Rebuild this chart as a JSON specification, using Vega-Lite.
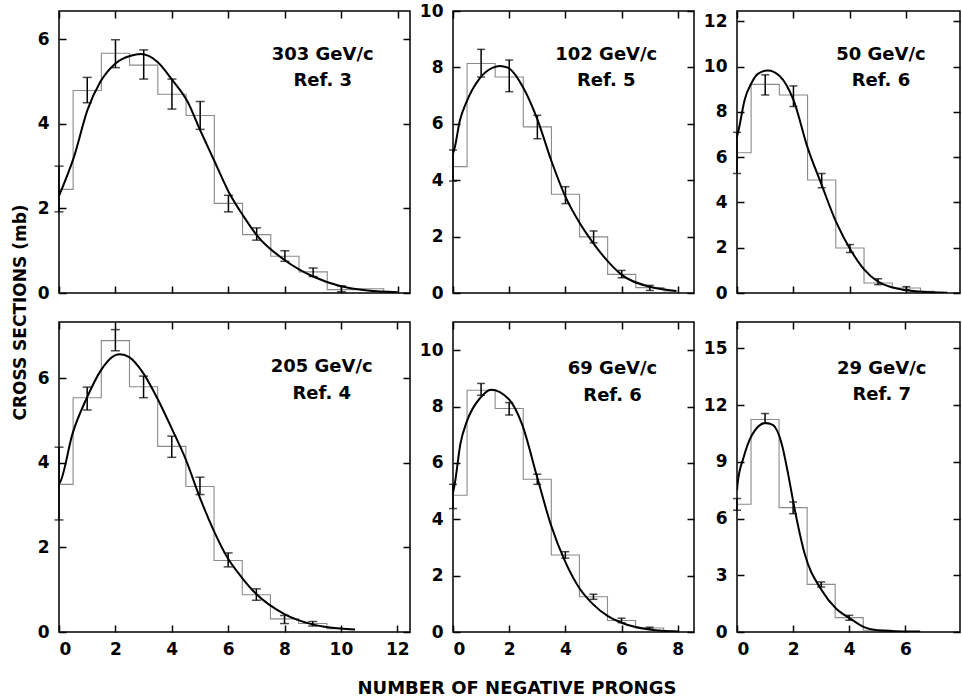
{
  "$schema": "https://vega.github.io/schema/vega-lite/v6.json",
  "background": "white",
  "padding": {"left": 12, "top": 1, "right": 1, "bottom": 1},
  "config": {
    "font": "DejaVu Sans",
    "view": {"stroke": "black", "strokeWidth": 1.5},
    "axis": {"domain": false, "grid": false, "tickColor": "black", "tickWidth": 1.5, "tickSize": -7, "labelFont": "DejaVu Sans", "labelFontWeight": "bold", "labelFontSize": 17, "labelColor": "black", "labelPadding": 17, "title": null},
    "title": {"font": "DejaVu Sans", "fontWeight": "bold", "fontSize": 17, "color": "black"}
  },
  "title": {"text": "CROSS SECTIONS (mb)", "orient": "left", "offset": 6, "anchor": "middle", "dx": 37},
  "vconcat": [
    {
      "title": {"text": "NUMBER OF NEGATIVE PRONGS", "orient": "bottom", "offset": 22, "anchor": "middle", "fontSize": 18, "dx": 18},
      "columns": 3,
      "align": "each",
      "spacing": {"row": 18, "column": 6},
      "concat": [
        {
          "width": 351, "height": 282,
          "data": {"values": [
            {"n": 0, "h": 2.45, "lo": 1.92, "hi": 3.0},
            {"n": 1, "h": 4.79, "lo": 4.5, "hi": 5.1},
            {"n": 2, "h": 5.67, "lo": 5.33, "hi": 5.99},
            {"n": 3, "h": 5.39, "lo": 5.06, "hi": 5.75},
            {"n": 4, "h": 4.7, "lo": 4.35, "hi": 5.06},
            {"n": 5, "h": 4.2, "lo": 3.87, "hi": 4.53},
            {"n": 6, "h": 2.12, "lo": 1.92, "hi": 2.31},
            {"n": 7, "h": 1.38, "lo": 1.25, "hi": 1.54},
            {"n": 8, "h": 0.87, "lo": 0.75, "hi": 1.0},
            {"n": 9, "h": 0.5, "lo": 0.39, "hi": 0.59},
            {"n": 10, "h": 0.08, "lo": 0.03, "hi": 0.17},
            {"n": 11, "h": 0.1, "lo": null, "hi": null},
            {"n": 12, "h": 0.03, "lo": null, "hi": null}
          ]},
          "layer": [
            {
              "mark": {"type": "line", "interpolate": "step", "color": "#8a8a8a", "strokeWidth": 1.1, "clip": true},
              "encoding": {
                "x": {"field": "n", "type": "quantitative", "scale": {"domain": [0, 12.43], "nice": false}, "axis": {"orient": "bottom", "labels": false, "minExtent": 0, "maxExtent": 0, "values": [0, 2, 4, 6, 8, 10, 12]}},
                "y": {"field": "h", "type": "quantitative", "scale": {"domain": [0, 6.67], "nice": false}, "axis": {"orient": "left", "values": [0, 2, 4, 6]}}
              }
            },
            {
              "transform": [{"filter": "datum.lo != null"}],
              "mark": {"type": "errorbar", "ticks": true, "size": 9, "thickness": 1.5, "color": "black"},
              "encoding": {
                "x": {"field": "n", "type": "quantitative", "axis": null},
                "y": {"field": "lo", "type": "quantitative", "axis": null},
                "y2": {"field": "hi"}
              }
            },
            {
              "data": {"values": [
                {"cx": 0.0, "cy": 2.3}, {"cx": 0.53, "cy": 3.22}, {"cx": 1.01, "cy": 4.33}, {"cx": 1.47, "cy": 5.0},
                {"cx": 2.0, "cy": 5.43}, {"cx": 2.54, "cy": 5.61}, {"cx": 2.89, "cy": 5.65}, {"cx": 3.48, "cy": 5.47},
                {"cx": 4.01, "cy": 5.04}, {"cx": 4.55, "cy": 4.53}, {"cx": 5.02, "cy": 3.82}, {"cx": 5.49, "cy": 3.14},
                {"cx": 6.01, "cy": 2.39}, {"cx": 6.55, "cy": 1.8}, {"cx": 7.0, "cy": 1.37}, {"cx": 8.01, "cy": 0.77},
                {"cx": 9.0, "cy": 0.39}, {"cx": 9.98, "cy": 0.16}, {"cx": 10.93, "cy": 0.06}, {"cx": 11.99, "cy": 0.02}
              ]},
              "mark": {"type": "line", "interpolate": "monotone", "color": "black", "strokeWidth": 2, "clip": true},
              "encoding": {
                "x": {"field": "cx", "type": "quantitative", "axis": {"orient": "top", "labels": false, "minExtent": 0, "maxExtent": 0, "values": [0, 2, 4, 6, 8, 10, 12]}},
                "y": {"field": "cy", "type": "quantitative", "axis": {"orient": "right", "labels": false, "minExtent": 0, "maxExtent": 0, "values": [0, 2, 4, 6]}}
              }
            },
            {
              "data": {"values": [{"t": ["303 GeV/c", "Ref. 3"]}]},
              "mark": {"type": "text", "font": "DejaVu Sans", "fontWeight": "bold", "fontSize": 18, "lineHeight": 26, "align": "center", "baseline": "middle", "color": "black"},
              "encoding": {"text": {"field": "t"}, "x": {"datum": 9.34, "type": "quantitative", "axis": null}, "y": {"datum": 5.63, "type": "quantitative", "axis": null}}
            }
          ],
          "resolve": {"axis": {"x": "independent", "y": "independent"}}
        },
        {
          "width": 241, "height": 282,
          "data": {"values": [
            {"n": 0, "h": 4.48, "lo": 3.97, "hi": 5.07},
            {"n": 1, "h": 8.14, "lo": 7.66, "hi": 8.64},
            {"n": 2, "h": 7.66, "lo": 7.14, "hi": 8.26},
            {"n": 3, "h": 5.89, "lo": 5.47, "hi": 6.3},
            {"n": 4, "h": 3.5, "lo": 3.17, "hi": 3.77},
            {"n": 5, "h": 1.99, "lo": 1.78, "hi": 2.2},
            {"n": 6, "h": 0.66, "lo": 0.54, "hi": 0.8},
            {"n": 7, "h": 0.19, "lo": 0.09, "hi": 0.27},
            {"n": 8, "h": 0.07, "lo": null, "hi": null}
          ]},
          "layer": [
            {
              "mark": {"type": "line", "interpolate": "step", "color": "#8a8a8a", "strokeWidth": 1.1, "clip": true},
              "encoding": {
                "x": {"field": "n", "type": "quantitative", "scale": {"domain": [0, 8.57], "nice": false}, "axis": {"orient": "bottom", "labels": false, "minExtent": 0, "maxExtent": 0, "values": [0, 2, 4, 6, 8]}},
                "y": {"field": "h", "type": "quantitative", "scale": {"domain": [0, 10], "nice": false}, "axis": {"orient": "left", "values": [0, 2, 4, 6, 8, 10]}}
              }
            },
            {
              "transform": [{"filter": "datum.lo != null"}],
              "mark": {"type": "errorbar", "ticks": true, "size": 8, "thickness": 1.5, "color": "black"},
              "encoding": {
                "x": {"field": "n", "type": "quantitative", "axis": null},
                "y": {"field": "lo", "type": "quantitative", "axis": null},
                "y2": {"field": "hi"}
              }
            },
            {
              "data": {"values": [
                {"cx": 0.0, "cy": 4.95}, {"cx": 0.06, "cy": 5.15}, {"cx": 0.24, "cy": 6.1}, {"cx": 0.47, "cy": 6.75},
                {"cx": 0.95, "cy": 7.61}, {"cx": 1.42, "cy": 7.99}, {"cx": 1.66, "cy": 8.05}, {"cx": 1.95, "cy": 7.99},
                {"cx": 2.49, "cy": 7.3}, {"cx": 3.0, "cy": 6.16}, {"cx": 3.5, "cy": 4.68}, {"cx": 3.96, "cy": 3.5},
                {"cx": 4.5, "cy": 2.49}, {"cx": 4.98, "cy": 1.78}, {"cx": 5.5, "cy": 1.13}, {"cx": 5.98, "cy": 0.66},
                {"cx": 7.01, "cy": 0.22}, {"cx": 7.94, "cy": 0.07}
              ]},
              "mark": {"type": "line", "interpolate": "monotone", "color": "black", "strokeWidth": 2, "clip": true},
              "encoding": {
                "x": {"field": "cx", "type": "quantitative", "axis": {"orient": "top", "labels": false, "minExtent": 0, "maxExtent": 0, "values": [0, 2, 4, 6, 8]}},
                "y": {"field": "cy", "type": "quantitative", "axis": {"orient": "right", "labels": false, "minExtent": 0, "maxExtent": 0, "values": [0, 2, 4, 6, 8, 10]}}
              }
            },
            {
              "data": {"values": [{"t": ["102 GeV/c", "Ref. 5"]}]},
              "mark": {"type": "text", "font": "DejaVu Sans", "fontWeight": "bold", "fontSize": 18, "lineHeight": 26.5, "align": "center", "baseline": "middle", "color": "black"},
              "encoding": {"text": {"field": "t"}, "x": {"datum": 5.45, "type": "quantitative", "axis": null}, "y": {"datum": 8.45, "type": "quantitative", "axis": null}}
            }
          ],
          "resolve": {"axis": {"x": "independent", "y": "independent"}}
        },
        {
          "width": 223, "height": 282,
          "data": {"values": [
            {"n": 0, "h": 6.2, "lo": 5.28, "hi": 7.1},
            {"n": 1, "h": 9.22, "lo": 8.75, "hi": 9.64},
            {"n": 2, "h": 8.75, "lo": 8.24, "hi": 9.15},
            {"n": 3, "h": 4.99, "lo": 4.65, "hi": 5.28},
            {"n": 4, "h": 1.99, "lo": 1.79, "hi": 2.14},
            {"n": 5, "h": 0.44, "lo": 0.37, "hi": 0.63},
            {"n": 6, "h": 0.22, "lo": 0.14, "hi": 0.28},
            {"n": 7, "h": 0.07, "lo": null, "hi": null}
          ]},
          "layer": [
            {
              "mark": {"type": "line", "interpolate": "step", "color": "#8a8a8a", "strokeWidth": 1.1, "clip": true},
              "encoding": {
                "x": {"field": "n", "type": "quantitative", "scale": {"domain": [0, 7.9], "nice": false}, "axis": {"orient": "bottom", "labels": false, "minExtent": 0, "maxExtent": 0, "values": [0, 2, 4, 6]}},
                "y": {"field": "h", "type": "quantitative", "scale": {"domain": [0, 12.46], "nice": false}, "axis": {"orient": "left", "values": [0, 2, 4, 6, 8, 10, 12]}}
              }
            },
            {
              "transform": [{"filter": "datum.lo != null"}],
              "mark": {"type": "errorbar", "ticks": true, "size": 8, "thickness": 1.5, "color": "black"},
              "encoding": {
                "x": {"field": "n", "type": "quantitative", "axis": null},
                "y": {"field": "lo", "type": "quantitative", "axis": null},
                "y2": {"field": "hi"}
              }
            },
            {
              "data": {"values": [
                {"cx": 0.0, "cy": 6.9}, {"cx": 0.07, "cy": 7.28}, {"cx": 0.27, "cy": 8.53}, {"cx": 0.51, "cy": 9.27},
                {"cx": 0.74, "cy": 9.68}, {"cx": 1.09, "cy": 9.83}, {"cx": 1.51, "cy": 9.59}, {"cx": 2.0, "cy": 8.53},
                {"cx": 2.51, "cy": 6.39}, {"cx": 2.98, "cy": 4.84}, {"cx": 3.51, "cy": 3.14}, {"cx": 4.0, "cy": 1.96},
                {"cx": 4.51, "cy": 1.03}, {"cx": 5.01, "cy": 0.49}, {"cx": 6.0, "cy": 0.12}, {"cx": 6.92, "cy": 0.03},
                {"cx": 7.45, "cy": 0.01}
              ]},
              "mark": {"type": "line", "interpolate": "monotone", "color": "black", "strokeWidth": 2, "clip": true},
              "encoding": {
                "x": {"field": "cx", "type": "quantitative", "axis": {"orient": "top", "labels": false, "minExtent": 0, "maxExtent": 0, "values": [0, 2, 4, 6]}},
                "y": {"field": "cy", "type": "quantitative", "axis": {"orient": "right", "labels": false, "minExtent": 0, "maxExtent": 0, "values": [0, 2, 4, 6, 8, 10, 12]}}
              }
            },
            {
              "data": {"values": [{"t": ["50 GeV/c", "Ref. 6"]}]},
              "mark": {"type": "text", "font": "DejaVu Sans", "fontWeight": "bold", "fontSize": 18, "lineHeight": 26, "align": "center", "baseline": "middle", "color": "black"},
              "encoding": {"text": {"field": "t"}, "x": {"datum": 5.1, "type": "quantitative", "axis": null}, "y": {"datum": 10.52, "type": "quantitative", "axis": null}}
            }
          ],
          "resolve": {"axis": {"x": "independent", "y": "independent"}}
        },
        {
          "width": 351, "height": 310,
          "data": {"values": [
            {"n": 0, "h": 3.49, "lo": 2.65, "hi": 4.37},
            {"n": 1, "h": 5.54, "lo": 5.25, "hi": 5.79},
            {"n": 2, "h": 6.89, "lo": 6.65, "hi": 7.15},
            {"n": 3, "h": 5.8, "lo": 5.54, "hi": 6.05},
            {"n": 4, "h": 4.39, "lo": 4.13, "hi": 4.63},
            {"n": 5, "h": 3.44, "lo": 3.25, "hi": 3.66},
            {"n": 6, "h": 1.69, "lo": 1.54, "hi": 1.87},
            {"n": 7, "h": 0.88, "lo": 0.75, "hi": 1.02},
            {"n": 8, "h": 0.31, "lo": 0.2, "hi": 0.39},
            {"n": 9, "h": 0.2, "lo": 0.14, "hi": 0.25},
            {"n": 10, "h": 0.08, "lo": null, "hi": null}
          ]},
          "layer": [
            {
              "mark": {"type": "line", "interpolate": "step", "color": "#8a8a8a", "strokeWidth": 1.1, "clip": true},
              "encoding": {
                "x": {"field": "n", "type": "quantitative", "scale": {"domain": [0, 12.45], "nice": false}, "axis": {"orient": "bottom", "labelPadding": 16, "values": [0, 2, 4, 6, 8, 10, 12]}},
                "y": {"field": "h", "type": "quantitative", "scale": {"domain": [0, 7.33], "nice": false}, "axis": {"orient": "left", "values": [0, 2, 4, 6]}}
              }
            },
            {
              "transform": [{"filter": "datum.lo != null"}],
              "mark": {"type": "errorbar", "ticks": true, "size": 9, "thickness": 1.5, "color": "black"},
              "encoding": {
                "x": {"field": "n", "type": "quantitative", "axis": null},
                "y": {"field": "lo", "type": "quantitative", "axis": null},
                "y2": {"field": "hi"}
              }
            },
            {
              "data": {"values": [
                {"cx": 0.0, "cy": 3.5}, {"cx": 0.04, "cy": 3.54}, {"cx": 0.48, "cy": 4.69}, {"cx": 0.99, "cy": 5.54},
                {"cx": 1.48, "cy": 6.18}, {"cx": 1.98, "cy": 6.54}, {"cx": 2.17, "cy": 6.57}, {"cx": 2.49, "cy": 6.5},
                {"cx": 2.97, "cy": 6.14}, {"cx": 3.5, "cy": 5.51}, {"cx": 3.98, "cy": 4.84}, {"cx": 4.51, "cy": 4.06},
                {"cx": 4.99, "cy": 3.19}, {"cx": 5.46, "cy": 2.44}, {"cx": 6.0, "cy": 1.73}, {"cx": 6.47, "cy": 1.3},
                {"cx": 6.98, "cy": 0.91}, {"cx": 7.98, "cy": 0.43}, {"cx": 8.99, "cy": 0.18}, {"cx": 9.98, "cy": 0.08},
                {"cx": 10.5, "cy": 0.06}
              ]},
              "mark": {"type": "line", "interpolate": "monotone", "color": "black", "strokeWidth": 2, "clip": true},
              "encoding": {
                "x": {"field": "cx", "type": "quantitative", "axis": {"orient": "top", "labels": false, "minExtent": 0, "maxExtent": 0, "values": [0, 2, 4, 6, 8, 10, 12]}},
                "y": {"field": "cy", "type": "quantitative", "axis": {"orient": "right", "labels": false, "minExtent": 0, "maxExtent": 0, "values": [0, 2, 4, 6]}}
              }
            },
            {
              "data": {"values": [{"t": ["205 GeV/c", "Ref. 4"]}]},
              "mark": {"type": "text", "font": "DejaVu Sans", "fontWeight": "bold", "fontSize": 18, "lineHeight": 26.5, "align": "center", "baseline": "middle", "color": "black"},
              "encoding": {"text": {"field": "t"}, "x": {"datum": 9.32, "type": "quantitative", "axis": null}, "y": {"datum": 6.26, "type": "quantitative", "axis": null}}
            }
          ],
          "resolve": {"axis": {"x": "independent", "y": "independent"}}
        },
        {
          "width": 241, "height": 310,
          "data": {"values": [
            {"n": 0, "h": 4.85, "lo": 4.38, "hi": 5.24},
            {"n": 1, "h": 8.58, "lo": 8.4, "hi": 8.82},
            {"n": 2, "h": 7.93, "lo": 7.7, "hi": 8.14},
            {"n": 3, "h": 5.42, "lo": 5.24, "hi": 5.6},
            {"n": 4, "h": 2.73, "lo": 2.62, "hi": 2.85},
            {"n": 5, "h": 1.25, "lo": 1.16, "hi": 1.34},
            {"n": 6, "h": 0.41, "lo": 0.33, "hi": 0.49},
            {"n": 7, "h": 0.14, "lo": 0.1, "hi": 0.17},
            {"n": 8, "h": 0.05, "lo": null, "hi": null}
          ]},
          "layer": [
            {
              "mark": {"type": "line", "interpolate": "step", "color": "#8a8a8a", "strokeWidth": 1.1, "clip": true},
              "encoding": {
                "x": {"field": "n", "type": "quantitative", "scale": {"domain": [0, 8.58], "nice": false}, "axis": {"orient": "bottom", "labelPadding": 16, "values": [0, 2, 4, 6, 8]}},
                "y": {"field": "h", "type": "quantitative", "scale": {"domain": [0, 11], "nice": false}, "axis": {"orient": "left", "values": [0, 2, 4, 6, 8, 10]}}
              }
            },
            {
              "transform": [{"filter": "datum.lo != null"}],
              "mark": {"type": "errorbar", "ticks": true, "size": 8, "thickness": 1.5, "color": "black"},
              "encoding": {
                "x": {"field": "n", "type": "quantitative", "axis": null},
                "y": {"field": "lo", "type": "quantitative", "axis": null},
                "y2": {"field": "hi"}
              }
            },
            {
              "data": {"values": [
                {"cx": 0.0, "cy": 4.95}, {"cx": 0.06, "cy": 5.24}, {"cx": 0.26, "cy": 6.66}, {"cx": 0.5, "cy": 7.49},
                {"cx": 0.98, "cy": 8.32}, {"cx": 1.35, "cy": 8.6}, {"cx": 1.99, "cy": 8.26}, {"cx": 2.46, "cy": 7.37},
                {"cx": 3.0, "cy": 5.48}, {"cx": 3.48, "cy": 3.82}, {"cx": 4.01, "cy": 2.46}, {"cx": 4.49, "cy": 1.57},
                {"cx": 4.99, "cy": 0.98}, {"cx": 5.5, "cy": 0.57}, {"cx": 6.0, "cy": 0.33}, {"cx": 6.99, "cy": 0.09},
                {"cx": 8.04, "cy": 0.01}
              ]},
              "mark": {"type": "line", "interpolate": "monotone", "color": "black", "strokeWidth": 2, "clip": true},
              "encoding": {
                "x": {"field": "cx", "type": "quantitative", "axis": {"orient": "top", "labels": false, "minExtent": 0, "maxExtent": 0, "values": [0, 2, 4, 6, 8]}},
                "y": {"field": "cy", "type": "quantitative", "axis": {"orient": "right", "labels": false, "minExtent": 0, "maxExtent": 0, "values": [0, 2, 4, 6, 8, 10]}}
              }
            },
            {
              "data": {"values": [{"t": ["69 GeV/c", "Ref. 6"]}]},
              "mark": {"type": "text", "font": "DejaVu Sans", "fontWeight": "bold", "fontSize": 18, "lineHeight": 26.5, "align": "center", "baseline": "middle", "color": "black"},
              "encoding": {"text": {"field": "t"}, "x": {"datum": 5.68, "type": "quantitative", "axis": null}, "y": {"datum": 9.33, "type": "quantitative", "axis": null}}
            }
          ],
          "resolve": {"axis": {"x": "independent", "y": "independent"}}
        },
        {
          "width": 223, "height": 310,
          "data": {"values": [
            {"n": 0, "h": 6.76, "lo": 6.44, "hi": 7.06},
            {"n": 1, "h": 11.24, "lo": 11.03, "hi": 11.56},
            {"n": 2, "h": 6.58, "lo": 6.26, "hi": 6.88},
            {"n": 3, "h": 2.52, "lo": 2.38, "hi": 2.65},
            {"n": 4, "h": 0.76, "lo": 0.62, "hi": 0.88},
            {"n": 5, "h": 0.09, "lo": null, "hi": null},
            {"n": 6, "h": 0.03, "lo": null, "hi": null}
          ]},
          "layer": [
            {
              "mark": {"type": "line", "interpolate": "step", "color": "#8a8a8a", "strokeWidth": 1.1, "clip": true},
              "encoding": {
                "x": {"field": "n", "type": "quantitative", "scale": {"domain": [0, 7.95], "nice": false}, "axis": {"orient": "bottom", "labelPadding": 16, "values": [0, 2, 4, 6]}},
                "y": {"field": "h", "type": "quantitative", "scale": {"domain": [0, 16.4], "nice": false}, "axis": {"orient": "left", "values": [0, 3, 6, 9, 12, 15]}}
              }
            },
            {
              "transform": [{"filter": "datum.lo != null"}],
              "mark": {"type": "errorbar", "ticks": true, "size": 8, "thickness": 1.5, "color": "black"},
              "encoding": {
                "x": {"field": "n", "type": "quantitative", "axis": null},
                "y": {"field": "lo", "type": "quantitative", "axis": null},
                "y2": {"field": "hi"}
              }
            },
            {
              "data": {"values": [
                {"cx": 0.0, "cy": 7.5}, {"cx": 0.02, "cy": 7.85}, {"cx": 0.24, "cy": 9.26}, {"cx": 0.53, "cy": 10.41},
                {"cx": 1.02, "cy": 11.06}, {"cx": 1.29, "cy": 10.94}, {"cx": 1.59, "cy": 9.97}, {"cx": 1.82, "cy": 8.38},
                {"cx": 2.04, "cy": 6.62}, {"cx": 2.41, "cy": 4.15}, {"cx": 3.02, "cy": 2.21}, {"cx": 3.53, "cy": 1.24},
                {"cx": 4.04, "cy": 0.71}, {"cx": 4.53, "cy": 0.26}, {"cx": 5.0, "cy": 0.09}, {"cx": 6.0, "cy": 0.03},
                {"cx": 6.53, "cy": 0.02}
              ]},
              "mark": {"type": "line", "interpolate": "monotone", "color": "black", "strokeWidth": 2, "clip": true},
              "encoding": {
                "x": {"field": "cx", "type": "quantitative", "axis": {"orient": "top", "labels": false, "minExtent": 0, "maxExtent": 0, "values": [0, 2, 4, 6]}},
                "y": {"field": "cy", "type": "quantitative", "axis": {"orient": "right", "labels": false, "minExtent": 0, "maxExtent": 0, "values": [0, 3, 6, 9, 12, 15]}}
              }
            },
            {
              "data": {"values": [{"t": ["29 GeV/c", "Ref. 7"]}]},
              "mark": {"type": "text", "font": "DejaVu Sans", "fontWeight": "bold", "fontSize": 18, "lineHeight": 26.5, "align": "center", "baseline": "middle", "color": "black"},
              "encoding": {"text": {"field": "t"}, "x": {"datum": 5.16, "type": "quantitative", "axis": null}, "y": {"datum": 13.94, "type": "quantitative", "axis": null}}
            }
          ],
          "resolve": {"axis": {"x": "independent", "y": "independent"}}
        }
      ]
    }
  ]
}
